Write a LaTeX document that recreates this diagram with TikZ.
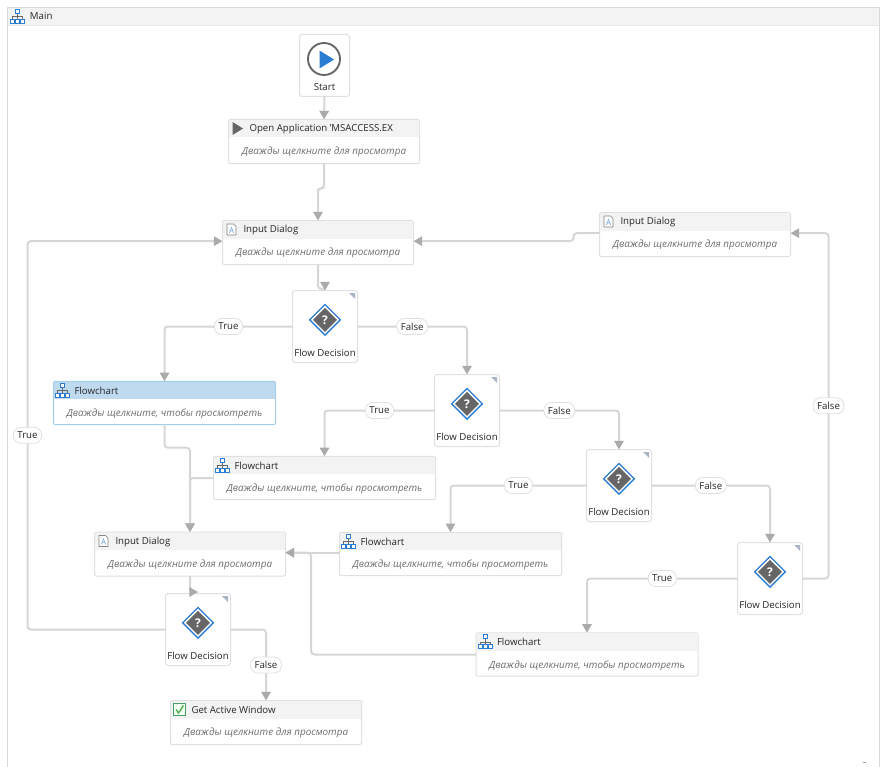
\documentclass[tikz,border=0pt]{standalone}
\usepackage{fontspec}
\setmainfont{Open Sans}
\usetikzlibrary{arrows.meta,shapes.geometric}

\definecolor{framegray}{HTML}{D9D9D9}
\definecolor{cardgray}{HTML}{E0E0E0}
\definecolor{headgray}{HTML}{F3F3F3}
\definecolor{linegray}{HTML}{D6D6D6}
\definecolor{tipgray}{HTML}{ABABAB}
\definecolor{hintgray}{HTML}{6E6E6E}
\definecolor{iconblue}{HTML}{2B7CD3}
\definecolor{darkgray}{HTML}{666666}
\definecolor{cornerblue}{HTML}{A9B5C6}
\definecolor{selectblue}{HTML}{BFDAEF}
\definecolor{selectline}{HTML}{A6CDE8}
\definecolor{checkgreen}{HTML}{4A9E6A}

% activity card: style, name, position, icon, title, hint
\newcommand{\card}[6]{
   \node[#1] (#2) at (#3) {};
   \path[headband] ([shift={(0.5,0.5)}]#2.north west) rectangle ([shift={(-0.5,18)}]#2.north east);
   \pic at ([shift={(9,9)}]#2.north west) {#4};
   \node[cardtitle] (#2title) at ([shift={(21,9.5)}]#2.north west) {#5};
   \node[cardhint] (#2hint) at ([yshift=-24.5pt]#2.north) {#6};
}
% decision card: name, position
\newcommand{\decision}[2]{
   \node[decisionbox] (#1) at (#2) {};
   \fill[cornerblue] ([shift={(-2.5,2.5)}]#1.north east) -- ++(-6,0) -- ++(6,6) -- cycle;
   \node[askouter] (#1outer) at ([yshift=-22pt]#1.north) {};
   \node[askinner] (#1mark) at (#1outer) {?};
   \node[cardlabel] (#1text) at ([yshift=-46.5pt]#1.north) {Flow Decision};
}

\begin{document}
\begin{tikzpicture}[x=0.75pt, y=-0.75pt,
   every node/.style={font=\fontsize{7.25}{9}\selectfont, inner sep=0pt, outer sep=0pt},
   cardbox/.style={draw=cardgray, fill=white, line width=0.75pt, rounded corners=1pt},
   dialogbox/.style={cardbox, minimum width=143.25pt, minimum height=33pt},
   chartbox/.style={cardbox, minimum width=166.5pt, minimum height=32.6pt},
   decisionbox/.style={cardbox, rounded corners=2pt, minimum width=48.75pt, minimum height=54pt},
   headband/.style={fill=headgray},
   cardtitle/.style={anchor=west, text=black!85},
   cardhint/.style={text=hintgray, font=\fontsize{7.4}{9}\selectfont\itshape},
   cardlabel/.style={text=black!85},
   askouter/.style={diamond, aspect=1, draw=iconblue, fill=white, line width=1pt, minimum size=23pt},
   askinner/.style={diamond, aspect=1, fill=darkgray, text=white, minimum size=18pt, font=\fontsize{9}{9}\selectfont\bfseries},
   flowline/.style={draw=linegray, line width=1.5pt, rounded corners=2.5pt},
   flow/.style={flowline, -{Triangle[length=6.5pt, width=7pt, color=tipgray]}},
   pill/.style={draw=cardgray, fill=white, line width=0.6pt, rounded corners=5.5pt, minimum height=12pt, inner xsep=3pt, text=black!85},
   charticon/.pic={
      \draw[darkgray, line width=0.35pt] (0,-3) -- (0,3) (-5,3) -- (-5,0) -- (5,0) -- (5,3);
      \draw[iconblue, fill=white, line width=0.55pt] (-2,-7) rectangle (2,-3) (-7,3) rectangle (-3,7) (-2,3) rectangle (2,7) (3,3) rectangle (7,7);
   },
   pageicon/.pic={
      \draw[darkgray!80, fill=white, line width=0.45pt] (-4.5,-5.5) -- (2,-5.5) -- (4.5,-3) -- (4.5,5.5) -- (-4.5,5.5) -- cycle;
      \draw[iconblue!55, line width=0.5pt] (-2.2,3.5) -- (0,-2) -- (2.2,3.5) (-1.3,1.5) -- (1.3,1.5);
   },
   runicon/.pic={
      \fill[darkgray] (-5,-6.5) -- (5.5,0) -- (-5,6.5) -- cycle;
   },
   checkicon/.pic={
      \draw[checkgreen, fill=green!6, line width=0.8pt] (-6,-6) rectangle (6,6);
      \draw[green!55!black!70, line width=1pt] (-3.5,0) -- (-1,3.5) -- (4,-4);
   },
]
   \useasboundingbox (0,0) rectangle (886,767);

   % outer frame
   \fill[headgray] (8,8) rectangle (879,25);
   \draw[framegray, line width=0.75pt] (7.5,767) |- (879.5,7.5) -- (879.5,767);
   \draw[framegray!60, line width=0.5pt] (8,25.5) -- (879,25.5);
   \pic at (17,16) {charticon};
   \node[cardtitle] (maintitle) at (30,16) {Main};
   \draw[darkgray!60, line width=0.5pt] (862.5,762) -- (865.5,762);

   % activities
   \node[cardbox, rounded corners=2pt, minimum width=37.5pt, minimum height=46.5pt] (start) at (324.5,65.5) {};
   \draw[darkgray, fill=white, line width=1.4pt] (324,59) circle (12pt);
   \fill[iconblue] (319.5,50.5) -- (334,59.5) -- (319.5,68.5) -- cycle;
   \node[cardlabel] (starttext) at (324.5,87) {Start};

   \card{dialogbox}{open}{324,141.5}{runicon}{Open Application 'MSACCESS.EX}{Дважды щелкните для просмотра}
   \card{dialogbox}{dlgname}{318,242.5}{pageicon}{Input Dialog}{Дважды щелкните для просмотра}
   \card{dialogbox}{dlgretry}{695,234.5}{pageicon}{Input Dialog}{Дважды щелкните для просмотра}
   \card{dialogbox}{dlgnext}{190,554}{pageicon}{Input Dialog}{Дважды щелкните для просмотра}
   \card{dialogbox}{window}{266,722.5}{checkicon}{Get Active Window}{Дважды щелкните для просмотра}
   \begin{scope}[headband/.style={fill=selectblue}]
   \card{chartbox, draw=selectline}{charta}{164.5,403}{charticon}{Flowchart}{Дважды щелкните, чтобы просмотреть}
   \end{scope}
   \card{chartbox}{chartb}{324.5,478}{charticon}{Flowchart}{Дважды щелкните, чтобы просмотреть}
   \card{chartbox}{chartc}{450.5,554}{charticon}{Flowchart}{Дважды щелкните, чтобы просмотреть}
   \card{chartbox}{chartd}{587,654.5}{charticon}{Flowchart}{Дважды щелкните, чтобы просмотреть}

   \decision{deca}{325,326.5}
   \decision{decb}{467,410.5}
   \decision{decc}{619,485.5}
   \decision{decd}{770,578.5}
   \decision{dece}{198,629.5}

   % connectors
   \draw[flow] (start.south) -- (open.north);
   \draw[flow] (open.south) -- ++(0,25) -| (dlgname.north);
   \draw[flowline] (dlgname.south) -- ++(0,24.5) -- ++(7,0);
   \draw[flow] ([yshift=6.5pt]deca.north) -- (deca.north);
   \draw[flow] ([yshift=1pt]dlgretry.west) -- ++(-26,0) |- ([yshift=1pt]dlgname.east);

   \draw[flow] (deca.west) -| node[pill, pos=0.25] (decayes) {True} (charta.north);
   \draw[flow] (deca.east) -| node[pill, pos=0.25] (decano) {False} (decb.north);
   \draw[flow] (decb.west) -| node[pill, pos=0.25] (decbyes) {True} (chartb.north);
   \draw[flow] (decb.east) -| node[pill, pos=0.25] (decbno) {False} (decc.north);
   \draw[flow] (decc.west) -| node[pill, pos=0.25] (deccyes) {True} (chartc.north);
   \draw[flow] (decc.east) -| node[pill, pos=0.25] (deccno) {False} (decd.north);
   \draw[flow] (decd.west) -| node[pill, pos=0.25] (decdyes) {True} (chartd.north);
   \draw[flow] (decd.east) -- ++(26,0) |- node[pill, pos=0.25] (decdno) {False} ([yshift=1pt]dlgretry.east);

   \draw[flow] (charta.south) -- ++(0,23) -| (dlgnext.north);
   \draw[flow] (chartb.west) -| (dlgnext.north);
   \draw[flow] ([yshift=1pt]chartc.west) -- ([yshift=1pt]dlgnext.east);
   \draw[flow] (chartd.west) -- ++(-165,0) |- ([yshift=1pt]dlgnext.east);

   \draw[flow] (dlgnext.south) -- ++(0,16) -- ++(8,0);
   \draw[flow] (dece.west) -- ++(-138,0) |- node[pill, pos=0.25] (deceyes) {True} ([yshift=1pt]dlgname.west);
   \draw[flow] (dece.east) -| node[pill, pos=0.75] (deceno) {False} (window.north);
\end{tikzpicture}
\end{document}
